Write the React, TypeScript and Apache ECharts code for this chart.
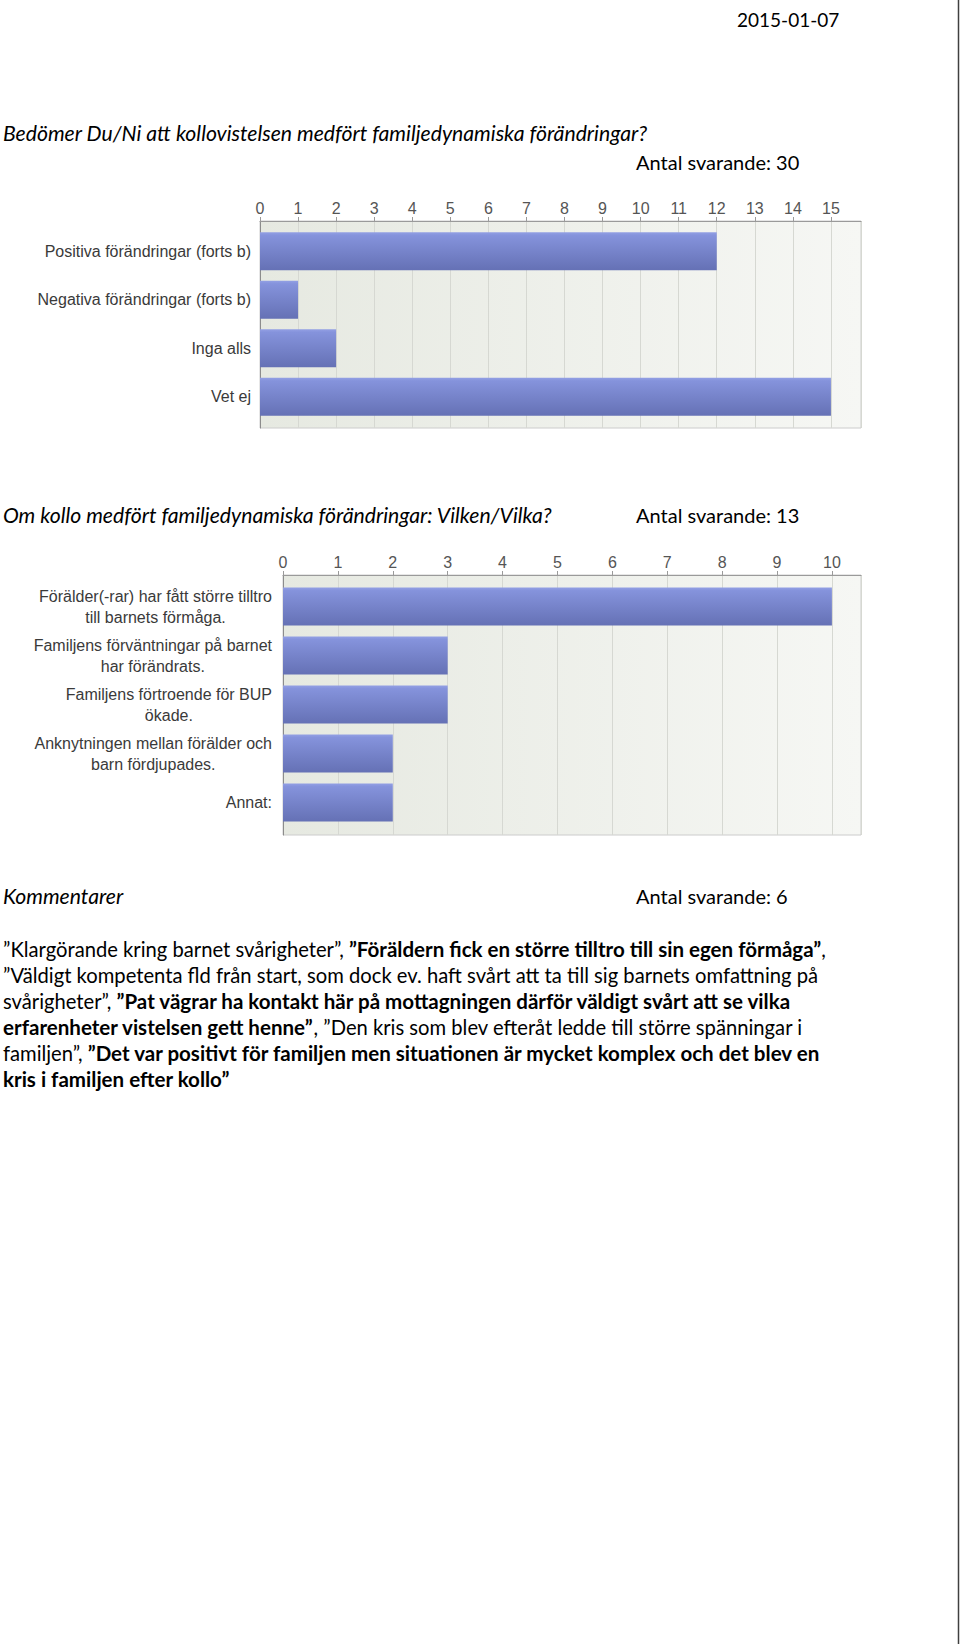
import React, { useEffect, useRef } from "react";
import * as echarts from "echarts";

// ---------- data ----------
const dateText = "2015-01-07";

const q1Title = "Bedömer Du/Ni att kollovistelsen medfört familjedynamiska förändringar?";
const q1Count = "Antal svarande: 30";
const q1Categories = [
  "Positiva förändringar (forts b)",
  "Negativa förändringar (forts b)",
  "Inga alls",
  "Vet ej",
];
const q1Values = [12, 1, 2, 15];
const q1AxisMax = 15.79;

const q2Title = "Om kollo medfört familjedynamiska förändringar: Vilken/Vilka?";
const q2Count = "Antal svarande: 13";
const q2Categories = [
  "Förälder(-rar) har fått större tilltro\ntill barnets förmåga.",
  "Familjens förväntningar på barnet\nhar förändrats.",
  "Familjens förtroende för BUP\nökade.",
  "Anknytningen mellan förälder och\nbarn fördjupades.",
  "Annat:",
];
const q2Values = [10, 3, 3, 2, 2];
const q2AxisMax = 10.53;

const commentsTitle = "Kommentarer";
const commentsCount = "Antal svarande: 6";
// each line: list of [styleKey, text]; n = normal, b = bold
const commentLines: [string, string][][] = [
  [["n", "”Klargörande kring barnet svårigheter”, "], ["b", "”Föräldern fick en större tilltro till sin egen förmåga”"], ["n", ","]],
  [["n", "”Väldigt kompetenta fld från start, som dock ev. haft svårt att ta till sig barnets omfattning på"]],
  [["n", "svårigheter”, "], ["b", "”Pat vägrar ha kontakt här på mottagningen därför väldigt svårt att se vilka"]],
  [["b", "erfarenheter vistelsen gett henne”"], ["n", ", ”Den kris som blev efteråt ledde till större spänningar i"]],
  [["n", "familjen”, "], ["b", "”Det var positivt för familjen men situationen är mycket komplex och det blev en"]],
  [["b", "kris i familjen efter kollo”"]],
];

// ---------- styles ----------
const PAGE_FONT = "Lato";
const CHART_FONT = "Liberation Sans";
const CHART_FS = 16;

const plotBg = () =>
  new echarts.graphic.LinearGradient(0, 0, 1, 0, [
    { offset: 0, color: "#e6e9e1" },
    { offset: 1, color: "#f6f7f4" },
  ]);

const barFill = () =>
  new echarts.graphic.LinearGradient(0, 0, 0, 1, [
    { offset: 0, color: "#93a0e4" },
    { offset: 0.08, color: "#8593dc" },
    { offset: 1, color: "#6571b5" },
  ]);

function frameAxes(gridIndex: number, max: number) {
  return {
    x: {
      type: "value",
      gridIndex,
      position: "top",
      min: 0,
      max,
      interval: 1,
      axisLine: { show: true, lineStyle: { color: "#9a9a9a", width: 1 } },
      axisTick: { show: true, length: 4, lineStyle: { color: "#9a9a9a" } },
      axisLabel: {
        show: true,
        showMaxLabel: false,
        margin: 5,
        color: "#555",
        fontSize: CHART_FS,
        fontFamily: CHART_FONT,
      },
      splitLine: { show: true, lineStyle: { color: "#d6d8d2", width: 1 } },
    },
    y: {
      type: "category",
      gridIndex,
      data: [""],
      axisLine: { show: true, lineStyle: { color: "#8c8c8c", width: 1 } },
      axisTick: { show: false },
      axisLabel: { show: false },
      splitLine: { show: false },
    },
  };
}

function barAxes(gridIndex: number, max: number, cats: string[], rich: boolean) {
  return {
    x: {
      type: "value",
      gridIndex,
      min: 0,
      max,
      show: false,
      splitLine: { show: false },
    },
    y: {
      type: "category",
      gridIndex,
      inverse: true,
      data: cats,
      axisLine: { show: false },
      axisTick: { show: false },
      splitLine: { show: false },
      axisLabel: rich
        ? {
            margin: 11,
            color: "#3a3a3a",
            fontSize: CHART_FS,
            fontFamily: CHART_FONT,
            lineHeight: 21,
            formatter: (v: string) =>
              v
                .split("\n")
                .map((l) => `{c|${l}}`)
                .join("\n"),
            rich: {
              c: {
                align: "center",
                color: "#3a3a3a",
                fontSize: CHART_FS,
                fontFamily: CHART_FONT,
                lineHeight: 21,
              },
            },
          }
        : {
            margin: 9,
            color: "#3a3a3a",
            fontSize: CHART_FS,
            fontFamily: CHART_FONT,
          },
    },
  };
}

function pageText(x: number, y: number, text: string, italic = false, size = 20) {
  return {
    type: "text",
    x,
    y,
    style: {
      text,
      fill: "#000",
      fontSize: size,
      fontFamily: PAGE_FONT,
      fontStyle: italic ? "italic" : "normal",
      align: "left",
      verticalAlign: "middle",
      textAlign: "left",
      textVerticalAlign: "middle",
    },
  };
}

export default function App() {
  const ref = useRef<HTMLDivElement>(null);

  useEffect(() => {
    if (!ref.current) return;
    const chart = echarts.init(ref.current, undefined, { renderer: "svg" });

    const f1 = frameAxes(0, q1AxisMax);
    const b1 = barAxes(1, q1AxisMax, q1Categories, false);
    const f2 = frameAxes(2, q2AxisMax);
    const b2 = barAxes(3, q2AxisMax, q2Categories, true);

    const commentText = commentLines
      .map((line) => line.map(([k, t]) => `{${k}|${t}}`).join(""))
      .join("\n");

    chart.setOption({
      animation: false,
      grid: [
        {
          left: 260, top: 221, width: 601, height: 207,
          show: true, backgroundColor: plotBg(), borderColor: "#cccccc", borderWidth: 1,
        },
        { left: 260, top: 227, width: 601, height: 194 },
        {
          left: 283, top: 575, width: 578, height: 260,
          show: true, backgroundColor: plotBg(), borderColor: "#cccccc", borderWidth: 1,
        },
        { left: 283, top: 582, width: 578, height: 245 },
      ],
      xAxis: [f1.x, b1.x, f2.x, b2.x],
      yAxis: [f1.y, b1.y, f2.y, b2.y],
      series: [
        {
          type: "bar",
          xAxisIndex: 1,
          yAxisIndex: 1,
          data: q1Values,
          barWidth: 38,
          itemStyle: { color: barFill() },
          silent: true,
        },
        {
          type: "bar",
          xAxisIndex: 3,
          yAxisIndex: 3,
          data: q2Values,
          barWidth: 38,
          itemStyle: { color: barFill() },
          silent: true,
        },
      ],
      graphic: [
        pageText(737, 19, dateText, false, 19),
        pageText(3, 133, q1Title, true, 21.2),
        pageText(636, 162, q1Count),
        pageText(3, 515, q2Title, true, 21.2),
        pageText(636, 515, q2Count),
        pageText(3, 896, commentsTitle, true, 21.2),
        pageText(636, 896, commentsCount),
        {
          type: "text",
          x: 3,
          y: 936,
          style: {
            text: commentText,
            fill: "#000",
            fontSize: 20,
            fontFamily: PAGE_FONT,
            lineHeight: 26,
            align: "left",
            verticalAlign: "top",
            rich: {
              n: { fontSize: 20.2, fontFamily: PAGE_FONT, fill: "#000", lineHeight: 26 },
              b: { fontSize: 20.55, fontFamily: PAGE_FONT, fontWeight: "bold", fill: "#000", lineHeight: 26 },
            },
          },
        },
        {
          type: "line",
          shape: { x1: 958.5, y1: 0, x2: 958.5, y2: 1644 },
          style: { stroke: "#404040", lineWidth: 1.5 },
        },
      ],
    });

    return () => chart.dispose();
  }, []);

  return (
    <div
      ref={ref}
      style={{ position: "absolute", left: 0, top: 0, width: 960, height: 1644, background: "#fff" }}
    />
  );
}
